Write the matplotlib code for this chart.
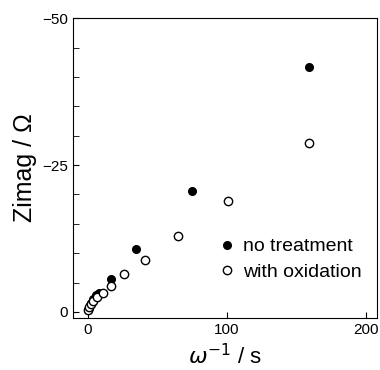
import matplotlib.pyplot as plt
from matplotlib.ticker import MultipleLocator

plt.rcParams['font.family'] = ['Liberation Sans', 'DejaVu Sans']

# no treatment (filled)
x_none = [0.3, 0.8, 1.5, 2.5, 4, 6, 8, 17, 35, 75, 159]
y_none = [-0.3, -0.7, -1.1, -1.6, -2.2, -2.8, -3.2, -5.6, -10.7, -20.5, -41.7]

# with oxidation (open)
x_ox = [0.5, 1.2, 2.5, 4, 6.5, 11, 17, 26, 41, 65, 101, 159]
y_ox = [-0.3, -0.8, -1.4, -1.9, -2.6, -3.3, -4.5, -6.4, -8.9, -13.0, -18.8, -28.7]

fig = plt.figure(figsize=(3.8, 3.7), dpi=100)
ax = fig.add_axes([0.192, 0.141, 0.8, 0.81])

ax.plot(x_none, y_none, 'o', color='black', ms=5.5, label='no treatment')
ax.plot(x_ox, y_ox, 'o', mfc='white', mec='black', mew=1.0, ms=6, label='with oxidation')

ax.set_xlim(-10.5, 208)
ax.set_ylim(1, -50)
ax.set_xticks([0, 100, 200])
ax.set_yticks([0, -25, -50])
ax.yaxis.set_minor_locator(MultipleLocator(5))
ax.tick_params(direction='in', which='both', labelsize=11, length=4)
ax.tick_params(which='minor', length=4)
ax.set_yticklabels(['0', '\u221225', '\u221250'])

ax.set_xlabel(r'$\omega^{-1}$ / s', fontsize=16, labelpad=5)
ax.set_ylabel('Zimag / \u03a9', fontsize=18, labelpad=4)

ax.legend(loc='center left', bbox_to_anchor=(0.475, 0.195), frameon=False,
          fontsize=14, handletextpad=0.3, labelspacing=0.4, borderpad=0,
          borderaxespad=0, handlelength=1)

fig.savefig('out.png', dpi=100)
